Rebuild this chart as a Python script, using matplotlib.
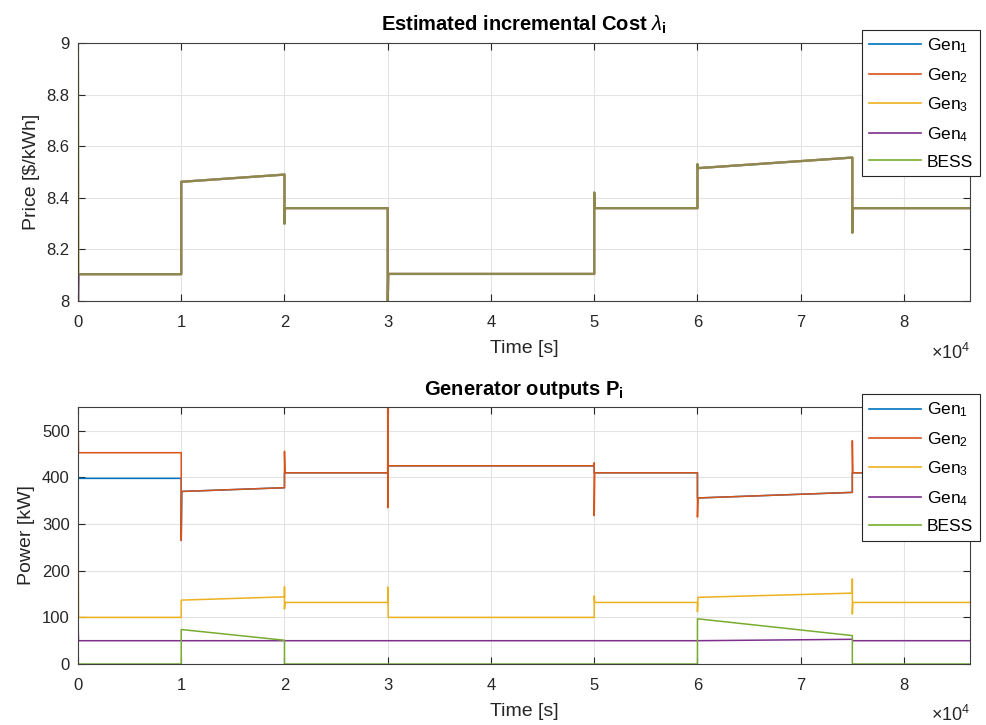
import matplotlib.pyplot as plt
from matplotlib.lines import Line2D

plt.rcParams['font.family'] = ['Liberation Sans', 'DejaVu Sans']
plt.rcParams['mathtext.fontset'] = 'custom'
plt.rcParams['mathtext.rm'] = 'Liberation Sans'
plt.rcParams['mathtext.it'] = 'Liberation Sans:italic'
plt.rcParams['mathtext.bf'] = 'Liberation Sans:bold'

NAMES = ['Gen$_1$', 'Gen$_2$', 'Gen$_3$', 'Gen$_4$', 'BESS']
COLORS = ['#0072BD', '#D95319', '#EDB120', '#7E2F8E', '#77AC30']

T_END = 86400

# incremental cost, shared by every unit after the first sample
t_lam = [50, 1e4, 1e4, 2e4, 2e4, 2e4 + 50, 3e4, 3e4, 3e4 + 50, 5e4, 5e4, 5e4 + 50,
         6e4, 6e4, 6e4 + 50, 7.5e4, 7.5e4, 7.5e4 + 50, T_END]
lam = [8.104, 8.104, 8.462, 8.490, 8.30, 8.36, 8.36, 7.99, 8.105, 8.105, 8.42, 8.36,
       8.36, 8.53, 8.515, 8.556, 8.265, 8.36, 8.36]
lam_start = [7.95, 7.95, 9.05, 7.95, 8.93]

# power outputs [kW]
t_g1 = [0, 50, 1e4, 1e4, 1e4 + 50, 2e4, 2e4, 3e4, 3e4, 5e4, 5e4, 6e4, 6e4, 7.5e4, 7.5e4, T_END]
p_g1 = [405, 398, 398, 265, 370, 378, 410, 410, 425, 425, 410, 410, 356, 368, 410, 410]

t_g2 = [0, 50, 1e4, 1e4, 1e4 + 50, 2e4, 2e4, 2e4 + 50, 3e4, 3e4, 3e4, 3e4 + 50,
        5e4, 5e4, 5e4, 5e4 + 50, 6e4, 6e4, 6e4 + 50, 7.5e4, 7.5e4, 7.5e4 + 50, T_END]
p_g2 = [560, 453, 453, 265, 370, 378, 456, 410, 410, 560, 335, 425,
        425, 431, 318, 410, 410, 315, 356, 368, 479, 410, 410]

t_g3 = [0, 50, 1e4, 1e4, 2e4, 2e4, 2e4, 2e4 + 50, 3e4, 3e4, 3e4 + 50, 5e4, 5e4, 5e4 + 50,
        6e4, 6e4, 6e4 + 50, 7.5e4, 7.5e4, 7.5e4, 7.5e4 + 50, T_END]
p_g3 = [400, 100, 100, 137, 144, 165, 118, 132, 132, 165, 100, 100, 146, 132,
        132, 112, 143, 152, 182, 107, 132, 132]

t_g4 = [0, 50, 6e4, 7.5e4, 7.5e4 + 50, T_END]
p_g4 = [95, 50, 50, 53, 50, 50]

t_bess = [0, 1e4, 1e4, 2e4, 2e4, 6e4, 6e4, 7.5e4, 7.5e4, T_END]
p_bess = [0, 0, 74, 51, 0, 0, 97, 61, 0, 0]

power = [(t_g1, p_g1), (t_g2, p_g2), (t_g3, p_g3), (t_g4, p_g4), (t_bess, p_bess)]

fig = plt.figure(figsize=(9.86, 7.25), dpi=100)
ax1 = fig.add_axes([0.0791, 0.5848, 0.9047, 0.3559])
ax2 = fig.add_axes([0.0791, 0.0841, 0.9047, 0.3545])

TXT = '#262626'


def style(ax, title):
    ax.set_xlim(0, T_END)
    ax.set_xticks([i * 1e4 for i in range(9)])
    ax.set_xticklabels([str(i) for i in range(9)])
    ax.grid(True, color='#e3e3e3', linewidth=0.8)
    ax.set_axisbelow(True)
    ax.tick_params(direction='in', top=True, right=True, labelsize=12,
                   length=5, width=0.8, color=TXT, labelcolor=TXT)
    ax.tick_params(axis='x', pad=10)
    ax.tick_params(axis='y', pad=6)
    for s in ax.spines.values():
        s.set_color('#404040')
        s.set_linewidth(0.8)
    ax.set_title(title, fontsize=14.5, fontweight='bold', pad=9)
    ax.set_xlabel('Time [s]', fontsize=14, color=TXT)
    ax.xaxis.set_label_coords(0.5, -0.15)
    ax.yaxis.label.set_fontsize(14)
    ax.yaxis.label.set_color(TXT)
    ax.text(1.0, -0.2, r'$\times10^{4}$', transform=ax.transAxes, ha='right', va='center',
            fontsize=13, color=TXT)
    handles = [Line2D([], [], color=c, linewidth=1.2) for c in COLORS]
    leg = ax.legend(handles, NAMES, loc='upper right', bbox_to_anchor=(1.011, 1.052),
                    fontsize=12.5, fancybox=False, framealpha=1, edgecolor=TXT,
                    borderpad=0.4, labelspacing=0.62, handlelength=3.0, handletextpad=0.3,
                    borderaxespad=0)
    leg.get_frame().set_linewidth(0.8)
    leg.set_zorder(10)


# top: incremental cost of every unit
for i, c in enumerate(COLORS):
    ax1.plot([0] + t_lam, [lam_start[i]] + lam, color=c, linewidth=1.6, alpha=0.5)
ax1.set_ylim(8, 9)
ax1.set_yticks([8, 8.2, 8.4, 8.6, 8.8, 9])
ax1.set_yticklabels(['8', '8.2', '8.4', '8.6', '8.8', '9'])
ax1.set_ylabel(r'Price [\$/kWh]', labelpad=5)
style(ax1, r'Estimated incremental Cost $\lambda_\mathbf{i}$')

# bottom: generator outputs
for (t, p), c in zip(power, COLORS):
    ax2.plot(t, p, color=c, linewidth=1.1)
ax2.set_ylim(0, 551)
ax2.set_yticks([0, 100, 200, 300, 400, 500])
ax2.set_ylabel('Power [kW]', labelpad=5)
style(ax2, r'Generator outputs P$_\mathbf{i}$')

fig.savefig('out.png', dpi=100)
